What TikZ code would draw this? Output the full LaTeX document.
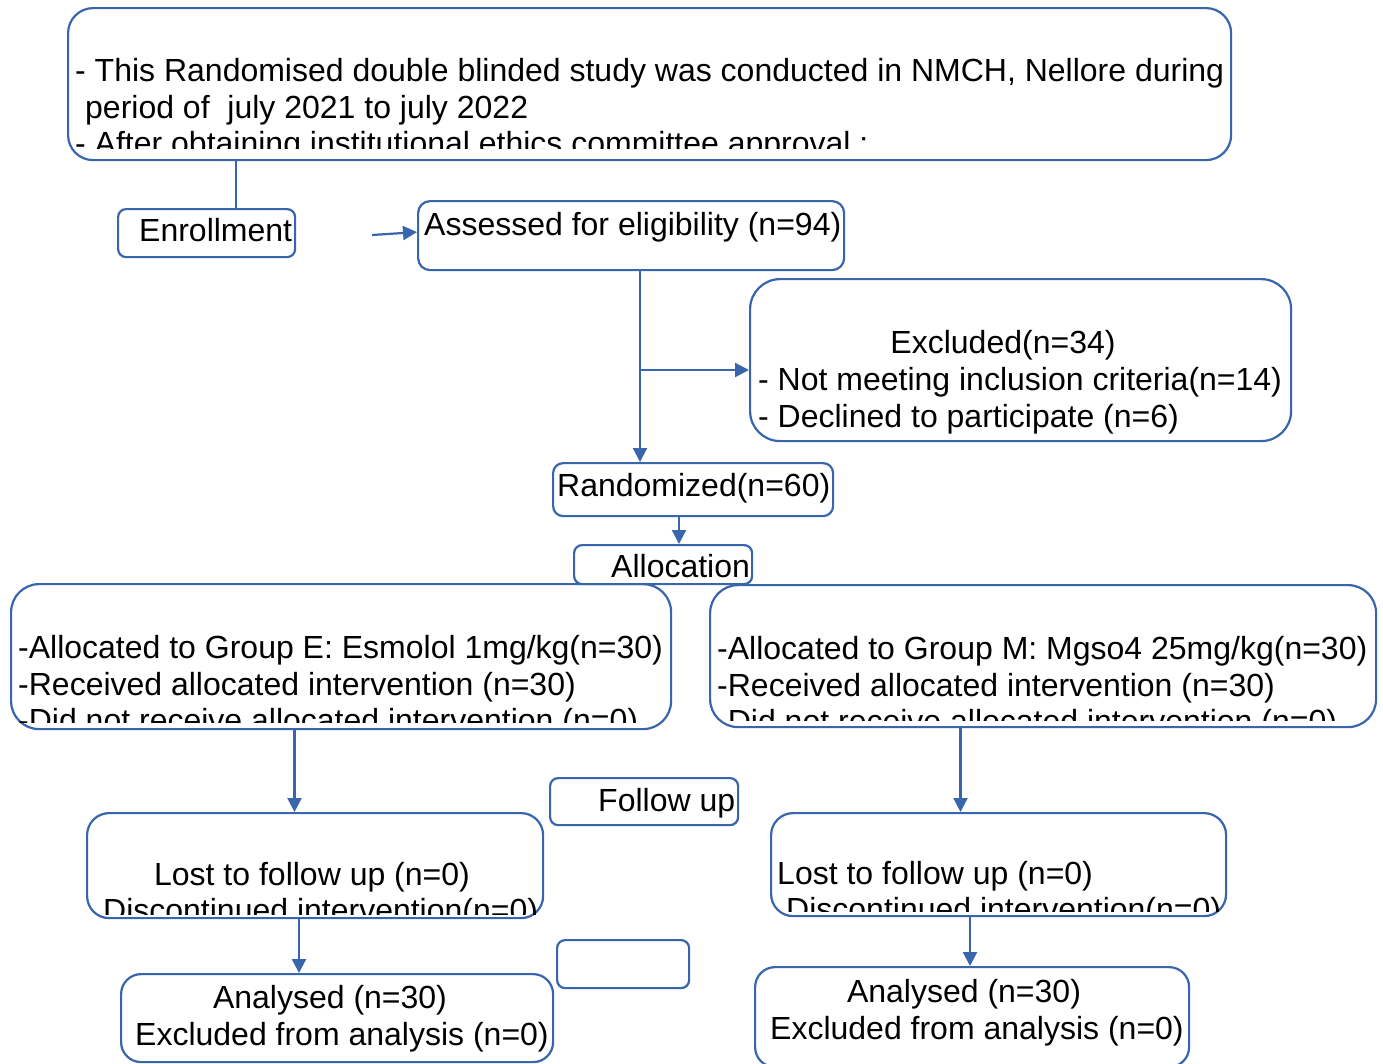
\documentclass[tikz,border=0pt]{standalone}
\usepackage{fontspec}
\setmainfont{Liberation Sans}
\usetikzlibrary{arrows.meta}
\definecolor{bl}{RGB}{56,101,172}
\newcommand{\fs}{\fontsize{32}{38}\selectfont}
\begin{document}
\begin{tikzpicture}[x=1pt,y=-1pt,
  box/.style={draw=bl, line width=2.2pt, inner sep=0pt, anchor=north west, rounded corners=#1},
  txt/.style={inner sep=0pt, anchor=base west, font=\fs},
  ctxt/.style={inner sep=0pt, anchor=base, font=\fs},
  conn/.style={draw=bl, line width=2.2pt},
  arr/.style={conn, -{Triangle[length=14pt,width=14pt]}}]
\useasboundingbox (0,0) rectangle (1383,1063);
% boxes
\node[box=25pt, minimum width=1163pt, minimum height=152pt] (top) at (67,7) {};
\node[box=8pt, minimum width=177pt, minimum height=48pt] (enroll) at (117,208) {};
\node[box=12pt, minimum width=426pt, minimum height=69pt] (assess) at (417,200) {};
\node[box=30pt, minimum width=541pt, minimum height=162pt] (excl) at (749,278) {};
\node[box=10pt, minimum width=280pt, minimum height=53pt] (rand) at (552,462) {};
\node[box=8pt, minimum width=178pt, minimum height=39pt] (alloc) at (573,544) {};
\node[box=28pt, minimum width=660pt, minimum height=145pt] (grpE) at (10,583) {};
\node[box=28pt, minimum width=666pt, minimum height=142pt] (grpM) at (709,584) {};
\node[box=8pt, minimum width=188pt, minimum height=47pt] (follow) at (549,777) {};
\node[box=22pt, minimum width=456pt, minimum height=105pt] (lostE) at (86,812) {};
\node[box=22pt, minimum width=455pt, minimum height=103pt] (lostM) at (770,812) {};
\node[box=8pt, minimum width=132pt, minimum height=48pt] (empty) at (556,939) {};
\node[box=20pt, minimum width=432pt, minimum height=88pt] (anE) at (120,973) {};
\node[box=20pt, minimum width=434pt, minimum height=100pt] (anM) at (754,966) {};
% texts
\node[txt] (tTopA) at (75,81) {- This Randomised double blinded study was conducted in NMCH, Nellore during};
\node[txt] (tTopB) at (85,118) {period of\ \ july 2021 to july 2022};
\begin{scope}
\clip (67,7) rectangle (1230,148);
\node[txt] (tTopC) at (75,154) {- After obtaining institutional ethics committee approval :};
\end{scope}
\node[txt] (tEnroll) at (139,241) {Enrollment};
\node[txt] (tAssess) at (424,235) {Assessed for eligibility (n=94)};
\node[ctxt] (tExA) at (1003,353) {Excluded(n=34)};
\node[txt] (tExB) at (758,390) {- Not meeting inclusion criteria(n=14)};
\node[txt] (tExC) at (758,427) {- Declined to participate (n=6)};
\node[txt] (tRand) at (557,496) {Randomized(n=60)};
\node[txt] (tAlloc) at (611,577) {Allocation};
\node[txt] (tEA) at (18,658) {-Allocated to Group E: Esmolol 1mg/kg(n=30)};
\node[txt] (tEB) at (18,695) {-Received allocated intervention (n=30)};
\begin{scope}
\clip (10,583) rectangle (670,722);
\node[txt] (tEC) at (18,731) {-Did not receive allocated intervention (n=0)};
\end{scope}
\node[txt] (tMA) at (717,659) {-Allocated to Group M: Mgso4 25mg/kg(n=30)};
\node[txt] (tMB) at (717,696) {-Received allocated intervention (n=30)};
\begin{scope}
\clip (709,584) rectangle (1375,720);
\node[txt] (tMC) at (717,732) {-Did not receive allocated intervention (n=0)};
\end{scope}
\node[txt] (tFollow) at (598,811) {Follow up};
\node[ctxt] (tLEA) at (312,885) {Lost to follow up (n=0)};
\begin{scope}
\clip (86,812) rectangle (542,914);
\node[txt] (tLEB) at (103,921) {Discontinued intervention(n=0)};
\end{scope}
\node[txt] (tLMA) at (777,884) {Lost to follow up (n=0)};
\begin{scope}
\clip (770,812) rectangle (1225,911);
\node[txt] (tLMB) at (786,920) {Discontinued intervention(n=0)};
\end{scope}
\node[ctxt] (tAEA) at (330,1008) {Analysed (n=30)};
\node[txt] (tAEB) at (135,1045) {Excluded from analysis (n=0)};
\node[ctxt] (tAMA) at (964,1002) {Analysed (n=30)};
\node[txt] (tAMB) at (770,1039) {Excluded from analysis (n=0)};
% connectors
\coordinate (c1) at ([xshift=169pt]top.south west);
\draw[conn] (c1) -- (c1 |- enroll.north);
\coordinate (c2) at (372,235);
\draw[arr] (c2) -- ([yshift=3.5pt]assess.west);
\coordinate (c3) at ([xshift=223pt]assess.south west);
\draw[arr] (c3) -- (c3 |- rand.north);
\coordinate (c4) at (c3 |- 0,370);
\draw[arr] (c4) -- (c4 -| excl.west);
\coordinate (c5) at ([xshift=127pt]rand.south west);
\draw[arr] (c5) -- (c5 |- alloc.north);
\coordinate (c6) at ([xshift=284.5pt]grpE.south west);
\draw[arr] (c6) -- (c6 |- lostE.north);
\coordinate (c7) at ([xshift=251.5pt]grpM.south west);
\draw[arr] (c7) -- (c7 |- lostM.north);
\coordinate (c8) at ([xshift=213pt]lostE.south west);
\draw[arr] (c8) -- (c8 |- anE.north);
\coordinate (c9) at ([xshift=200pt]lostM.south west);
\draw[arr] (c9) -- (c9 |- anM.north);
\end{tikzpicture}
\end{document}
